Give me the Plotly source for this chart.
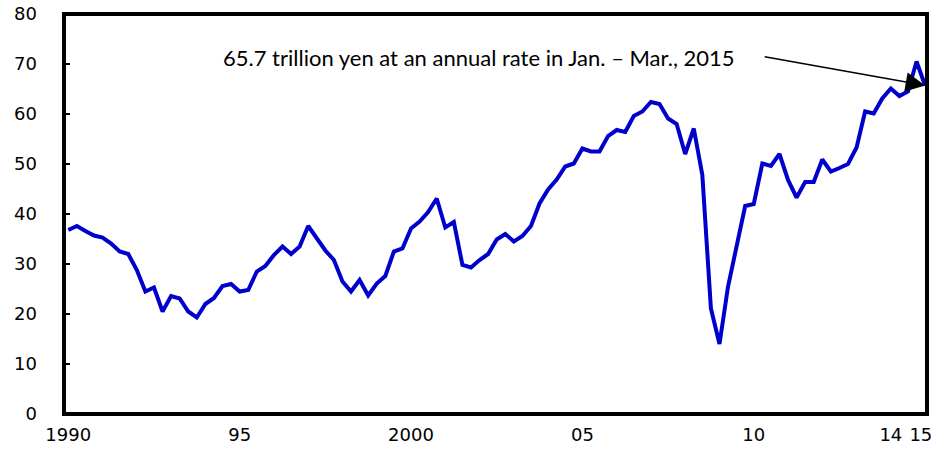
import plotly.graph_objects as go

# Quarterly series, 1990 Q1 - 2015 Q1 (trillion yen, annual rate)
quarter_index = list(range(101))
values = [
    36.8, 37.6, 36.6, 35.7, 35.3, 34.1, 32.5, 32.0, 28.8, 24.5,
    25.3, 20.5, 23.6, 23.1, 20.5, 19.3, 22.0, 23.2, 25.6, 26.0,
    24.5, 24.8, 28.5, 29.6, 31.8, 33.5, 32.0, 33.5, 37.6, 35.3,
    32.7, 30.8, 26.5, 24.5, 26.8, 23.7, 26.1, 27.6, 32.5, 33.1,
    37.1, 38.5, 40.4, 43.1, 37.3, 38.4, 29.8, 29.3, 30.8, 32.0,
    34.9, 36.0, 34.5, 35.6, 37.6, 42.1, 44.9, 46.9, 49.5, 50.1,
    53.1, 52.5, 52.5, 55.6, 56.8, 56.4, 59.6, 60.5, 62.4, 62.0,
    59.1, 58.0, 52.0, 57.1, 47.8, 21.1, 14.0, 25.5, 33.5, 41.6,
    42.0, 50.1, 49.6, 52.0, 46.8, 43.3, 46.4, 46.4, 50.9, 48.5,
    49.2, 50.0, 53.3, 60.5, 60.1, 63.1, 65.1, 63.6, 64.5, 70.5,
    65.7,
]

# the last label is nudged slightly left so it stays inside the page
x_tick_positions = [0, 20, 40, 60, 80, 96, 99.5]
x_tick_labels = ["1990", "95", "2000", "05", "10", "14", "15"]
y_tick_values = [0, 10, 20, 30, 40, 50, 60, 70, 80]

note_text = "65.7 trillion yen at an annual rate in Jan. \u2013 Mar., 2015"
last_value = values[-1]

fig = go.Figure()
fig.add_trace(go.Scatter(
    x=quarter_index,
    y=values,
    mode="lines",
    line=dict(color="#0000CC", width=4),
    hoverinfo="skip",
    showlegend=False,
))

tick_font = dict(family="DejaVu Sans", size=18, color="black")

fig.update_layout(
    width=933,
    height=449,
    margin=dict(l=64, r=6, t=14, b=35),
    paper_bgcolor="white",
    plot_bgcolor="white",
    xaxis=dict(
        range=[-0.5, 100.22],
        tickmode="array",
        tickvals=x_tick_positions,
        ticktext=x_tick_labels,
        ticks="",
        showgrid=False,
        zeroline=False,
        showline=False,
        tickfont=tick_font,
        ticklabelstandoff=8,
        ticklabeloverflow="allow",
        automargin=False,
    ),
    yaxis=dict(
        range=[0, 80],
        tickmode="array",
        tickvals=y_tick_values,
        ticks="inside",
        ticklen=6,
        tickwidth=2,
        tickcolor="black",
        showgrid=False,
        zeroline=False,
        showline=False,
        tickfont=tick_font,
        ticklabelstandoff=26,
        automargin=False,
    ),
    shapes=[dict(
        type="rect", xref="paper", yref="paper",
        x0=0, x1=1, y0=0, y1=1,
        line=dict(color="black", width=4),
        layer="above",
    )],
    annotations=[
        dict(
            xref="paper", yref="paper",
            x=0.4808, y=0.89,
            xanchor="center", yanchor="middle",
            text=note_text,
            showarrow=False,
            font=dict(family="Lato", size=22, color="black"),
        ),
        dict(
            xref="x", yref="y", axref="x", ayref="y",
            x=100, y=last_value,
            ax=81.1, ay=71.5,
            text="",
            showarrow=True,
            arrowhead=2,
            arrowsize=2.6,
            arrowwidth=1.5,
            arrowcolor="black",
        ),
    ],
)

fig.write_html("out.html")
